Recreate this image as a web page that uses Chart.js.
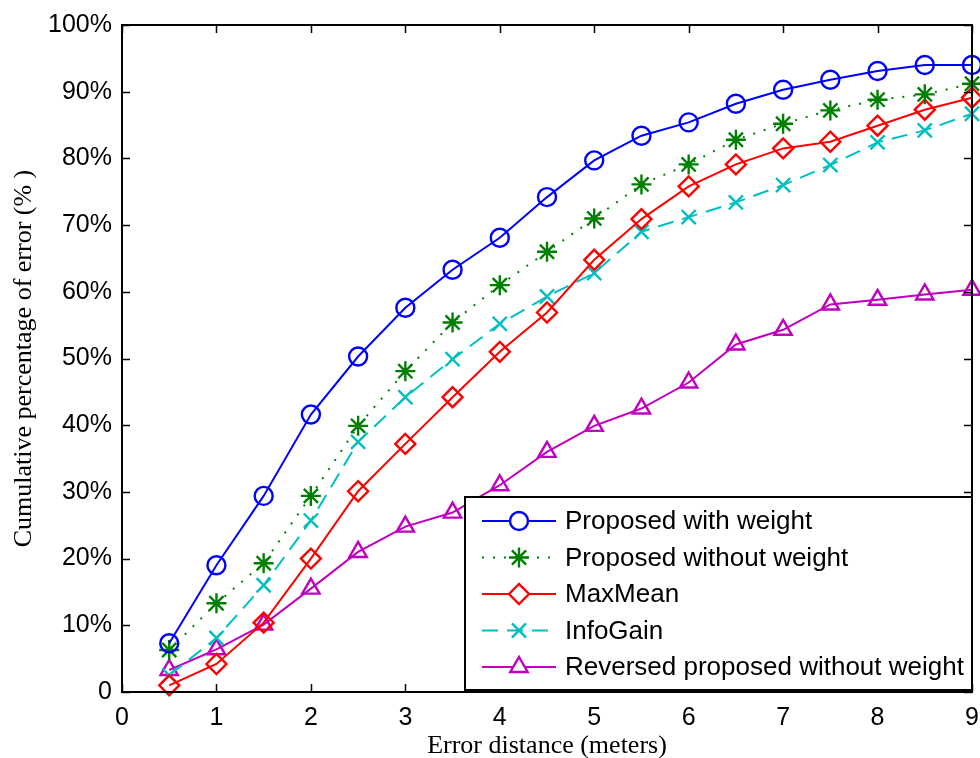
<!DOCTYPE html>
<html>
<head>
<meta charset="utf-8">
<script src="https://cdn.jsdelivr.net/npm/chart.js@4/dist/chart.umd.min.js"></script>
<style>
  html, body { margin: 0; padding: 0; background: #fff; }
  #wrap { width: 980px; height: 758px; }
</style>
</head>
<body>
<div id="wrap"><canvas id="myChart" width="980" height="758"></canvas></div>
<script>
// error distance (meters)
const distances = [0.5, 1, 1.5, 2, 2.5, 3, 3.5, 4, 4.5, 5, 5.5, 6, 6.5, 7, 7.5, 8, 8.5, 9];

// cumulative percentage of error (%)
const withWeight = [7.3, 19.0, 29.4, 41.6, 50.3, 57.6, 63.3, 68.1, 74.2, 79.7, 83.4, 85.4, 88.2, 90.3, 91.8, 93.1, 94.0, 94.0];
const withoutWeight = [6.3, 13.3, 19.3, 29.4, 39.9, 48.1, 55.4, 61.0, 66.0, 71.0, 76.1, 79.1, 82.8, 85.2, 87.2, 88.8, 89.6, 91.2];
const maxMean = [1.0, 4.2, 10.4, 20.0, 30.1, 37.2, 44.2, 51.0, 56.9, 64.8, 70.9, 75.8, 79.1, 81.5, 82.5, 84.9, 87.3, 89.1];
const infoGain = [2.5, 8.1, 16.0, 25.7, 37.5, 44.2, 49.9, 55.2, 59.3, 62.8, 69.0, 71.2, 73.4, 76.0, 79.0, 82.4, 84.2, 86.7];
const reversed = [3.3, 6.4, 10.1, 15.5, 21.0, 24.8, 26.9, 31.0, 36.0, 39.9, 42.5, 46.4, 52.1, 54.3, 58.1, 58.8, 59.6, 60.3];

const xTicks = [0, 1, 2, 3, 4, 5, 6, 7, 8, 9];
const yTicks = [0, 10, 20, 30, 40, 50, 60, 70, 80, 90, 100];

const tickFont = '25px "Liberation Sans", Arial, sans-serif';

const toPoints = arr => arr.map((v, i) => ({ x: distances[i], y: v }));

function makeSet(label, data, color, style, radius, dash) {
    return {
        label: label,
        data: toPoints(data),
        borderColor: color,
        backgroundColor: 'rgba(0,0,0,0)',
        borderWidth: 2,
        borderDash: dash,
        pointStyle: style,
        pointRadius: radius,
        pointBorderWidth: 2.4,
        pointBorderColor: color,
        pointBackgroundColor: 'rgba(0,0,0,0)',
        tension: 0,
        clip: false
    };
}

const datasets = [
    makeSet('Proposed with weight', withWeight, '#0000ff', 'circle', 9, []),
    makeSet('Proposed without weight', withoutWeight, '#008000', 'star', 10, [2, 9]),
    makeSet('MaxMean', maxMean, '#ff0000', 'rectRot', 10, []),
    makeSet('InfoGain', infoGain, '#00bfbf', 'crossRot', 10, [16, 9]),
    makeSet('Reversed proposed without weight', reversed, '#bf00bf', 'triangle', 10, [])
];

// inner ticks, x labels, box frame and legend inside the plot (MATLAB look)
const framePlugin = {
    id: 'frame',
    afterDraw(chart) {
        const ctx = chart.ctx;
        const a = chart.chartArea;
        const xs = chart.scales.x, ys = chart.scales.y;
        ctx.save();
        ctx.strokeStyle = '#000';
        ctx.lineWidth = 1.5;
        ctx.beginPath();
        xTicks.forEach(t => {
            const px = Math.round(xs.getPixelForValue(t)) + 0.5;
            ctx.moveTo(px, a.bottom); ctx.lineTo(px, a.bottom - 8);
            ctx.moveTo(px, a.top); ctx.lineTo(px, a.top + 8);
        });
        yTicks.forEach(t => {
            const py = Math.round(ys.getPixelForValue(t)) + 0.5;
            ctx.moveTo(a.left, py); ctx.lineTo(a.left + 8, py);
            ctx.moveTo(a.right, py); ctx.lineTo(a.right - 8, py);
        });
        ctx.stroke();
        ctx.lineWidth = 2;
        ctx.strokeRect(a.left, a.top, a.right - a.left, a.bottom - a.top);

        // x tick labels
        ctx.fillStyle = '#000';
        ctx.font = tickFont;
        ctx.textAlign = 'center';
        ctx.textBaseline = 'middle';
        xTicks.forEach(t => {
            ctx.fillText(String(t), xs.getPixelForValue(t), a.bottom + 26);
        });
        ctx.textAlign = 'left';

        // legend box
        const lx = 465, ly = 497, lw = a.right - 465, lh = 193;
        ctx.fillStyle = '#fff';
        ctx.fillRect(lx, ly, lw, lh);
        ctx.strokeRect(lx, ly, lw, lh);
        ctx.font = '26px "Liberation Sans", Arial, sans-serif';
        chart.data.datasets.forEach((ds, i) => {
            const y = ly + 24 + i * 36.5;
            ctx.strokeStyle = ds.borderColor;
            ctx.lineWidth = ds.borderWidth;
            ctx.setLineDash(ds.borderDash);
            ctx.beginPath();
            ctx.moveTo(482, y); ctx.lineTo(556, y);
            ctx.stroke();
            ctx.setLineDash([]);
            ctx.fillStyle = '#fff';
            ctx.lineWidth = ds.pointBorderWidth;
            Chart.helpers.drawPoint(ctx, {
                pointStyle: ds.pointStyle,
                radius: ds.pointRadius,
                rotation: 0,
                borderWidth: ds.pointBorderWidth
            }, 519, y);
            ctx.fillStyle = '#000';
            ctx.fillText(ds.label, 565, y + 1);
        });
        ctx.restore();
    }
};

const ctx = document.getElementById('myChart');
new Chart(ctx, {
    type: 'line',
    data: { datasets: datasets },
    options: {
        responsive: false,
        animation: false,
        layout: { autoPadding: false, padding: { top: 22, right: 8, left: 0, bottom: 0 } },
        plugins: {
            legend: { display: false },
            tooltip: { enabled: false }
        },
        scales: {
            x: {
                type: 'linear',
                min: 0,
                max: 9,
                afterBuildTicks: s => { s.ticks = xTicks.map(v => ({ value: v })); },
                afterFit: s => { s.height = 66; },
                grid: { display: false, drawTicks: false },
                border: { display: false },
                ticks: { display: false },
                title: {
                    display: true,
                    text: 'Error distance (meters)',
                    color: '#000',
                    padding: { top: 0, bottom: -4 },
                    font: { family: '"Liberation Serif", "Times New Roman", serif', size: 26 }
                }
            },
            y: {
                min: 0,
                max: 100,
                afterBuildTicks: s => { s.ticks = yTicks.map(v => ({ value: v })); },
                afterFit: s => { s.width = 122; },
                grid: { display: false, drawTicks: false },
                border: { display: false },
                ticks: {
                    padding: 10,
                    color: '#000',
                    font: { family: '"Liberation Sans", Arial, sans-serif', size: 25 },
                    callback: v => v === 0 ? '0' : v + '%'
                },
                title: {
                    display: true,
                    text: 'Cumulative percentage of error (% )',
                    color: '#000',
                    padding: { top: 9, bottom: 0 },
                    font: { family: '"Liberation Serif", "Times New Roman", serif', size: 26 }
                }
            }
        }
    },
    plugins: [framePlugin]
});
</script>
</body>
</html>
